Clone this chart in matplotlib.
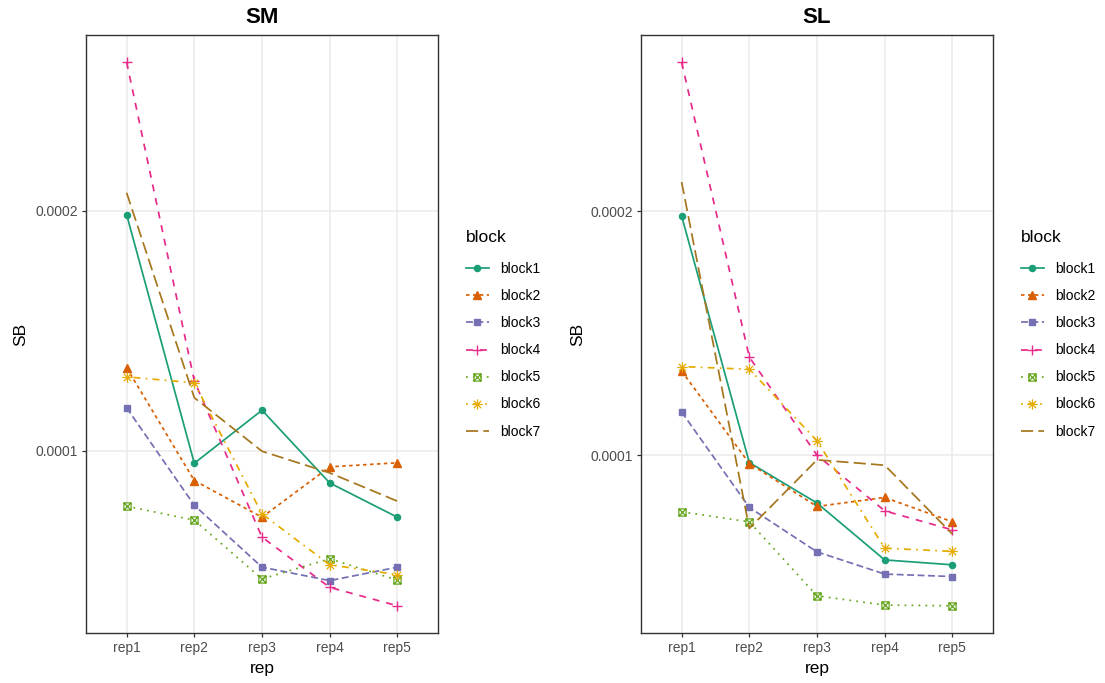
import matplotlib
matplotlib.use("Agg")
import matplotlib.pyplot as plt
from matplotlib.path import Path
import numpy as np

plt.rcParams['font.family'] = ['Liberation Sans', 'DejaVu Sans']

reps = ['rep1', 'rep2', 'rep3', 'rep4', 'rep5']
blocks = ['block1', 'block2', 'block3', 'block4', 'block5', 'block6', 'block7']

# SM panel
sm_block1 = [1.983e-4, 0.947e-4, 1.168e-4, 0.865e-4, 0.722e-4]
sm_block2 = [1.345e-4, 0.875e-4, 0.722e-4, 0.932e-4, 0.949e-4]
sm_block3 = [1.178e-4, 0.772e-4, 0.514e-4, 0.458e-4, 0.514e-4]
sm_block4 = [2.618e-4, 1.290e-4, 0.639e-4, 0.430e-4, 0.353e-4]
sm_block5 = [0.768e-4, 0.710e-4, 0.465e-4, 0.549e-4, 0.460e-4]
sm_block6 = [1.307e-4, 1.282e-4, 0.736e-4, 0.524e-4, 0.483e-4]
sm_block7 = [2.074e-4, 1.220e-4, 0.997e-4, 0.907e-4, 0.789e-4]

# SL panel
sl_block1 = [1.980e-4, 0.970e-4, 0.804e-4, 0.571e-4, 0.551e-4]
sl_block2 = [1.345e-4, 0.966e-4, 0.790e-4, 0.827e-4, 0.727e-4]
sl_block3 = [1.177e-4, 0.786e-4, 0.604e-4, 0.513e-4, 0.503e-4]
sl_block4 = [2.610e-4, 1.402e-4, 1.000e-4, 0.772e-4, 0.694e-4]
sl_block5 = [0.768e-4, 0.727e-4, 0.424e-4, 0.386e-4, 0.383e-4]
sl_block6 = [1.363e-4, 1.352e-4, 1.059e-4, 0.619e-4, 0.606e-4]
sl_block7 = [2.119e-4, 0.700e-4, 0.981e-4, 0.959e-4, 0.677e-4]

panels = {
    'SM': [sm_block1, sm_block2, sm_block3, sm_block4, sm_block5, sm_block6, sm_block7],
    'SL': [sl_block1, sl_block2, sl_block3, sl_block4, sl_block5, sl_block6, sl_block7],
}

y_ticks = [1e-4, 2e-4]
y_tick_labels = ['0.0001', '0.0002']

colors = ['#1B9E77', '#D95F02', '#7570B3', '#E7298A', '#66A61E', '#E6AB02', '#A6761D']
dashes = [None, (2, 2), (4, 2), (4, 4), (1, 3), (1, 3, 4, 3), (7, 3)]

# square with cross and eight-spoke asterisk markers
sq_cross = Path(
    [(-1, -1), (1, -1), (1, 1), (-1, 1), (-1, -1), (-1, -1), (1, 1), (-1, 1), (1, -1)],
    [Path.MOVETO, Path.LINETO, Path.LINETO, Path.LINETO, Path.CLOSEPOLY,
     Path.MOVETO, Path.LINETO, Path.MOVETO, Path.LINETO])
r = 0.7071
asterisk = Path(
    [(-1, 0), (1, 0), (0, -1), (0, 1), (-r, -r), (r, r), (-r, r), (r, -r)],
    [Path.MOVETO, Path.LINETO] * 4)

markers = [
    dict(marker='o', ms=4.4),
    dict(marker='^', ms=5.4),
    dict(marker='s', ms=4.4),
    dict(marker='+', ms=7.5, mew=1.0),
    dict(marker=sq_cross, ms=5.2, mfc='none', mew=0.9),
    dict(marker=asterisk, ms=7.5, mfc='none', mew=0.9),
    dict(marker='None', ms=0),
]

W, H = 1105, 683
fig = plt.figure(figsize=(W / 100, H / 100), dpi=100)

axes_px = {'SM': (86, 35, 438, 633), 'SL': (641, 35, 993, 633)}
legend_x = {'SM': 466, 'SL': 1021}
ylabel_x = {'SM': 21, 'SL': 578}

for name, series in panels.items():
    x0, y0, x1, y1 = axes_px[name]
    ax = fig.add_axes([x0 / W, 1 - y1 / H, (x1 - x0) / W, (y1 - y0) / H])
    handles = []
    for i, vals in enumerate(series):
        kw = dict(markers[i])
        ln, = ax.plot(reps, vals, color=colors[i], lw=1.25, label=blocks[i], **kw)
        if dashes[i] is not None:
            ln.set_dashes(dashes[i])
        handles.append(ln)

    allv = np.concatenate([np.asarray(s) for s in series])
    lo, hi = allv.min(), allv.max()
    pad = 0.05 * (hi - lo)
    ax.set_ylim(lo - pad, hi + pad)
    ax.set_xlim(-0.6, 4.6)
    ax.set_yticks(y_ticks)
    ax.set_yticklabels(y_tick_labels)

    ax.grid(True, color='#EBEBEB', lw=1.1)
    ax.set_axisbelow(True)
    for s in ax.spines.values():
        s.set_color('#333333')
        s.set_linewidth(1.0)
    ax.tick_params(axis='both', colors='#333333', length=3.2, width=0.9,
                   labelsize=10, labelcolor='#4D4D4D', pad=2.5)

    ax.set_title(name, fontsize=16, fontweight='bold', pad=8.5)
    ax.set_xlabel('rep', fontsize=12.5)
    ax.set_ylabel('SB', fontsize=12.5)
    ax.xaxis.label.set_va('center')
    ax.xaxis.set_label_coords(0.5, -(668 - y1) / (y1 - y0))
    ax.yaxis.label.set_va('center')
    ax.yaxis.set_label_coords((ylabel_x[name] - x0) / (x1 - x0), 0.5)

    leg = ax.legend(handles=handles, labels=blocks, loc='upper left',
                    bbox_to_anchor=(legend_x[name] / W, 1 - 230 / H),
                    bbox_transform=fig.transFigure, frameon=False, borderpad=0,
                    borderaxespad=0, title='block', title_fontsize=12.5, fontsize=10,
                    alignment='left', handlelength=1.65, handletextpad=0.8,
                    labelspacing=0.94, numpoints=1)
    # extra gap between the legend title and the first key
    leg._legend_box.sep = 0.94 * 10 + 3.0

fig.savefig('out.png', dpi=100)
